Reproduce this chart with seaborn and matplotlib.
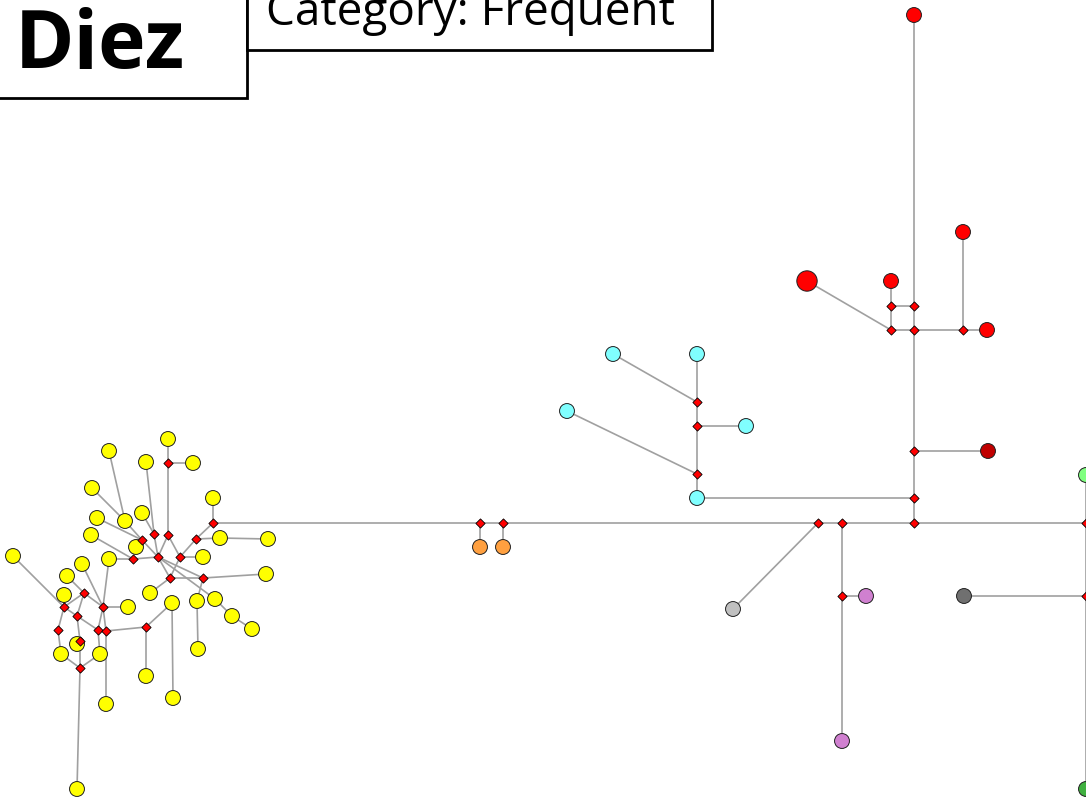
import matplotlib
matplotlib.use("Agg")
import matplotlib.pyplot as plt
import seaborn as sns
import pandas as pd
from matplotlib.patches import Rectangle

# ---------------- data ----------------
hap_ids = ["Y1", "Y2", "Y3", "Y4", "Y5", "Y6", "Y7", "Y8", "Y9", "Y10",
           "Y11", "Y12", "Y13", "Y14", "Y15", "Y16", "Y17", "Y18", "Y19", "Y20",
           "Y21", "Y22", "Y23", "Y24", "Y25", "Y26", "Y27", "Y28", "Y29", "Y30",
           "Y31", "Y32", "Y33", "Y34", "Y35",
           "O1", "O2",
           "C1", "C2", "C3", "C4", "C5",
           "R1", "R2", "R3", "R4", "R5",
           "DR", "G1", "P1", "P2", "G2", "L1", "L2"]
hap_x = [168, 193, 109, 146, 92, 213, 97, 125, 142, 91,
         136, 220, 268, 13, 82, 109, 203, 67, 266, 64,
         150, 128, 172, 197, 215, 232, 252, 77, 61, 100,
         198, 146, 106, 173, 77,
         480, 503,
         697, 567, 746, 613, 697,
         914, 963, 807, 891, 987,
         988, 733, 866, 842, 964, 1086, 1086]
hap_y = [439, 463, 451, 462, 488, 498, 518, 521, 513, 535,
         547, 538, 539, 556, 564, 559, 557, 576, 574, 595,
         593, 607, 603, 601, 599, 616, 629, 644, 654, 654,
         649, 676, 704, 698, 789,
         547, 547,
         498, 411, 426, 354, 354,
         15, 232, 281, 281, 330,
         451, 609, 596, 741, 596, 475, 789]
hap_group = ["yellow"] * 35 + ["orange"] * 2 + ["cyan"] * 5 + ["red"] * 5 + \
            ["darkred", "lightgrey", "purple", "purple", "darkgrey", "lightgreen", "green"]
hap_freq = [1] * 44 + [2] + [1] * 9

mv_ids = ["a", "b", "c", "d", "e", "f", "g", "h", "i", "j", "k",
          "l", "m", "n", "o", "p", "q", "r", "s", "t", "u",
          "M1", "M2", "M3", "M4", "M5", "M6", "N1", "N2",
          "V1", "V2", "V3", "V4", "W1", "W2", "W3", "X1", "X2", "X3"]
mv_x = [168, 213, 154, 168, 142, 196, 158, 180, 133, 170, 203,
        84, 64, 103, 77, 58, 98, 106, 146, 80, 80,
        480, 503, 818, 842, 914, 1086, 842, 1086,
        914, 914, 914, 914, 891, 963, 891, 697, 697, 697]
mv_y = [463, 523, 534, 535, 540, 539, 557, 557, 559, 578, 578,
        593, 607, 607, 616, 630, 630, 631, 627, 641, 668,
        523, 523, 523, 523, 523, 523, 596, 596,
        498, 451, 330, 306, 330, 330, 306, 474, 426, 402]

edges = [("Y1", "a"), ("a", "Y2"), ("a", "d"), ("Y3", "Y8"), ("Y5", "Y8"), ("Y8", "e"),
         ("Y7", "e"), ("e", "Y11"), ("e", "g"), ("Y4", "c"), ("Y9", "c"), ("c", "g"),
         ("d", "g"), ("d", "h"), ("b", "Y6"), ("b", "f"), ("f", "Y12"), ("Y12", "Y13"),
         ("f", "h"), ("h", "Y17"), ("h", "j"), ("g", "j"), ("g", "k"), ("j", "k"),
         ("k", "Y19"), ("k", "Y24"), ("Y24", "Y31"), ("j", "Y21"), ("Y10", "i"),
         ("i", "Y16"), ("i", "g"), ("g", "Y25"), ("Y25", "Y26"), ("Y26", "Y27"),
         ("Y14", "m"), ("Y20", "m"), ("Y18", "l"), ("Y15", "n"), ("Y16", "n"),
         ("l", "m"), ("l", "o"), ("l", "n"), ("m", "o"), ("m", "p"), ("o", "q"),
         ("o", "t"), ("p", "Y29"), ("n", "q"), ("n", "Y22"), ("n", "r"), ("q", "Y30"),
         ("t", "Y28"), ("t", "u"), ("u", "Y29"), ("u", "Y30"), ("u", "Y35"),
         ("r", "s"), ("r", "Y33"), ("s", "Y32"), ("s", "Y23"), ("Y23", "Y34"),
         ("b", "M1"), ("M1", "M2"), ("M2", "M3"), ("M3", "M4"), ("M4", "M5"), ("M5", "M6"),
         ("M1", "O1"), ("M2", "O2"), ("M3", "G1"), ("M4", "N1"), ("N1", "P1"), ("N1", "P2"),
         ("G2", "N2"), ("L1", "M6"), ("M6", "N2"), ("N2", "L2"),
         ("M5", "V1"), ("V1", "C1"), ("V1", "V2"), ("V2", "DR"), ("V2", "V3"), ("V3", "V4"),
         ("V4", "R1"), ("V3", "W1"), ("V3", "W2"), ("W2", "R5"), ("W2", "R2"),
         ("V4", "W3"), ("W3", "W1"), ("W3", "R4"), ("W1", "R3"),
         ("C1", "X1"), ("X1", "X2"), ("X2", "X3"), ("X3", "C5"), ("X1", "C2"),
         ("X2", "C3"), ("X3", "C4")]

title_text = "Diez"
subtitle_text = "Category: Frequent"

# ---------------- styling ----------------
palette = {"yellow": "#FFFF00", "orange": "#FFA040", "cyan": "#80FFFF",
           "red": "#FF0000", "darkred": "#C00000", "lightgrey": "#C0C0C0",
           "purple": "#D080D0", "darkgrey": "#707070", "lightgreen": "#80FF80",
           "green": "#40B040"}

haps = pd.DataFrame({"id": hap_ids, "x": hap_x, "y": hap_y,
                     "group": hap_group, "freq": hap_freq})
mvs = pd.DataFrame({"id": mv_ids, "x": mv_x, "y": mv_y})
pos = {**{r.id: (r.x, r.y) for r in haps.itertuples()},
       **{r.id: (r.x, r.y) for r in mvs.itertuples()}}

sns.set_style("white")
plt.rcParams["font.family"] = ["Open Sans", "DejaVu Sans"]

fig = plt.figure(figsize=(10.86, 8.01), dpi=100)
ax = fig.add_axes([0, 0, 1, 1])

for u_, v_ in edges:
    x0, y0 = pos[u_]
    x1, y1 = pos[v_]
    ax.plot([x0, x1], [y0, y1], color="#A0A0A0", lw=1.2, zorder=1,
            solid_capstyle="butt")

sns.scatterplot(data=haps, x="x", y="y", hue="group", palette=palette,
                size="freq", sizes={1: 115, 2: 215}, edgecolor="#202020",
                linewidth=0.7, legend=False, ax=ax, zorder=2)
sns.scatterplot(data=mvs, x="x", y="y", color="#FF0000", marker="D", s=22,
                edgecolor="black", linewidth=0.6, legend=False, ax=ax, zorder=3)

ax.set_xlim(0, 1086)
ax.set_ylim(801, 0)
ax.axis("off")

# label boxes
ax.add_patch(Rectangle((-5, -5), 252, 103, facecolor="white", edgecolor="black",
                       lw=2, zorder=5, clip_on=False))
ax.add_patch(Rectangle((247, -5), 465, 55, facecolor="white", edgecolor="black",
                       lw=2, zorder=5, clip_on=False))
ax.text(15, 68, title_text, fontsize=58, fontweight="bold", ha="left",
        va="baseline", color="black", zorder=6)
ax.text(266, 25, subtitle_text, fontsize=33, ha="left", va="baseline",
        color="black", zorder=6)

fig.savefig("out.png", dpi=100)
